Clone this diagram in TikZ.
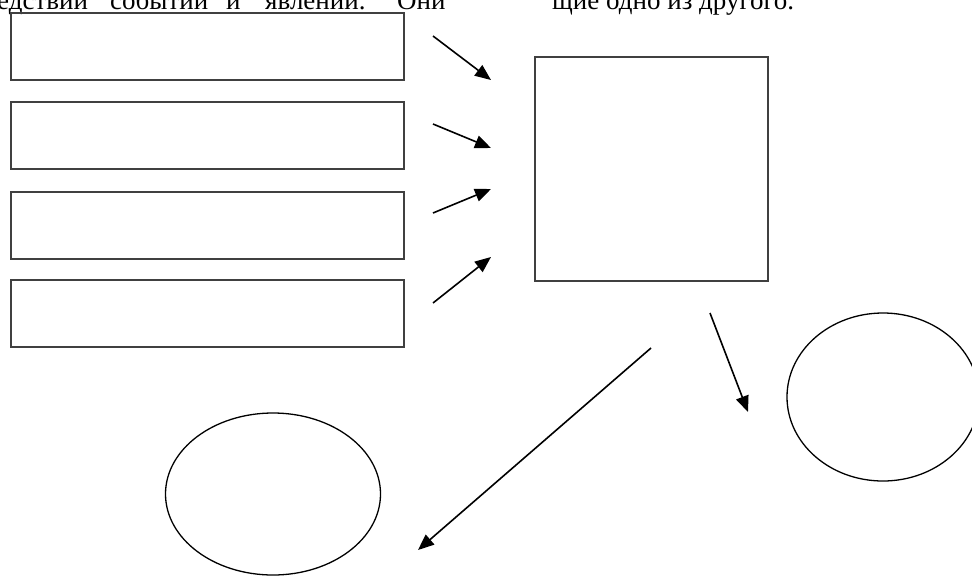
\documentclass[tikz,border=0pt]{standalone}
\usepackage{fontspec}
\setmainfont{Liberation Serif}
\usepackage{tikz}
\usetikzlibrary{arrows.meta,shapes.geometric}

\tikzset{
  cause/.style={draw=black!75,line width=2pt,inner sep=0pt,minimum width=393pt,minimum height=67pt},
  effect/.style={draw=black!75,line width=2pt,inner sep=0pt,minimum width=233pt,minimum height=224pt},
  oval/.style={ellipse,draw,line width=1.3pt,inner sep=0pt},
  arr/.style={line width=1.6pt,-{Triangle[length=16pt,width=13pt]}},
  word/.style={anchor=base west,inner sep=0pt,font=\fontsize{27}{32}\selectfont}
}

\begin{document}
\begin{tikzpicture}[x=1pt,y=-1pt]
\useasboundingbox (0,0) rectangle (972,576);
\clip (0,0) rectangle (972,576);
% line of text, cut at the top
\foreach \x/\w [count=\i] in {-3/едствий,110/событий,226/и,265/явлений.,397/Они,552/щие одно из другого.}
  \node[word] (w\i) at (\x,9) {\w};
% four boxes on the left
\foreach \y [count=\i] in {46.5,135.5,225,313.5}
  \node[cause] (c\i) at (207.5,\y) {};
% big box
\node[effect] (e) at (651.5,169) {};
% ovals
\node[oval,minimum width=192pt,minimum height=168pt] (o1) at (883,397) {};
\node[oval,minimum width=215pt,minimum height=162pt] (o2) at (273,494) {};
% arrows into the big box
\foreach \i/\ys/\ye in {1/36/80,2/124/148,3/213/189,4/303/257}{
  \coordinate (s\i) at (433,\ys);
  \coordinate (t\i) at (491,\ye);
  \draw[arr] (s\i) -- (t\i);
}
% arrows out of the big box
\coordinate (s5) at (710,313);
\coordinate (t5) at (748,412);
\draw[arr] (s5) -- (t5);
\coordinate (s6) at (651,348);
\coordinate (t6) at (418,550);
\draw[arr] (s6) -- (t6);
\end{tikzpicture}
\end{document}
